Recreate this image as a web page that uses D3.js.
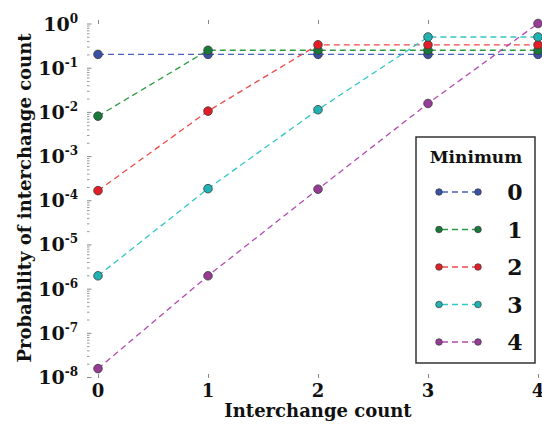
<!DOCTYPE html>
<html>
<head>
<meta charset="utf-8">
<script src="https://cdn.jsdelivr.net/npm/d3@7"></script>
<style>
  html, body { margin: 0; padding: 0; background: #fff; }
  svg { display: block; }
  text { font-family: "DejaVu Serif", "Liberation Serif", serif; font-weight: bold; fill: #111; }
</style>
</head>
<body>
<svg id="chart" width="542" height="424"></svg>
<script>
// ---- Data ----
const xValues = [0, 1, 2, 3, 4];
const seriesNames = ["0", "1", "2", "3", "4"];
const series0 = [0.2, 0.2, 0.2, 0.2, 0.2];
const series1 = [0.008, 0.248, 0.248, 0.248, 0.248];
const series2 = [1.65e-4, 0.0104, 0.33, 0.33, 0.33];
const series3 = [1.95e-6, 1.83e-4, 0.0112, 0.495, 0.495];
const series4 = [1.55e-8, 1.95e-6, 1.78e-4, 0.0155, 1.0];
const allSeries = [series0, series1, series2, series3, series4];
const yTickExponents = [0, -1, -2, -3, -4, -5, -6, -7, -8];
const xTickLabels = ["0", "1", "2", "3", "4"];
const fillColors = ["#3a52a6", "#18793a", "#e41e26", "#21b3b3", "#963c96"];
const lineColors = ["#4a62c0", "#2a9a44", "#f04848", "#33c6c6", "#b24ab2"];

const svg = d3.select("#chart");
const x = d3.scaleLinear().domain([0, 4]).range([98, 538]);
const y = d3.scaleLog().domain([1e-8, 1]).range([377, 23.5]);

const frameLeft = 87, frameTop = 20, frameBottom = 378;

// Y ticks (inward from hidden left spine)
const yAxis = d3.axisRight(y)
  .tickValues(yTickExponents.map(e => Math.pow(10, e)))
  .tickSize(4.5).tickFormat("");
const gy = svg.append("g").attr("transform", `translate(${frameLeft},0)`).call(yAxis);
gy.select(".domain").remove();
gy.selectAll(".tick line").attr("stroke", "#888").attr("stroke-width", 1);

// Minor ticks
const minorVals = [];
for (let e = -8; e < 0; e++) for (let m = 2; m <= 9; m++) minorVals.push(m * Math.pow(10, e));
const yMinor = d3.axisRight(y).tickValues(minorVals).tickSize(2.5).tickFormat("");
const gym = svg.append("g").attr("transform", `translate(${frameLeft},0)`).call(yMinor);
gym.select(".domain").remove();
gym.selectAll(".tick line").attr("stroke", "#999").attr("stroke-width", 1);

// Y tick labels with superscripts
const ylab = svg.append("g");
yTickExponents.forEach(e => {
  const t = ylab.append("text")
    .attr("x", 78).attr("y", y(Math.pow(10, e)) + 7)
    .attr("text-anchor", "end")
    .style("font-size", "19px");
  t.append("tspan").text("10");
  t.append("tspan").attr("dy", -8).style("font-size", "12px").text(String(e));
});

// X ticks top and bottom (inward)
const xTop = d3.axisBottom(x).tickValues(xValues).tickSize(4).tickFormat("");
const gxt = svg.append("g").attr("transform", `translate(0,${frameTop})`).call(xTop);
gxt.select(".domain").remove();
gxt.selectAll(".tick line").attr("stroke", "#888");
const xBot = d3.axisTop(x).tickValues(xValues).tickSize(4).tickFormat("");
const gxb = svg.append("g").attr("transform", `translate(0,${frameBottom})`).call(xBot);
gxb.select(".domain").remove();
gxb.selectAll(".tick line").attr("stroke", "#888");

// X tick labels
svg.append("g").selectAll("text").data(xValues).join("text")
  .attr("x", d => x(d)).attr("y", 397)
  .attr("text-anchor", "middle").style("font-size", "18px")
  .text((d, i) => xTickLabels[i]);

// Axis titles
svg.append("text").attr("x", 318).attr("y", 417).attr("text-anchor", "middle")
  .style("font-size", "18px").text("Interchange count");
svg.append("text").attr("transform", "translate(31,198) rotate(-90)")
  .attr("text-anchor", "middle").style("font-size", "18px")
  .text("Probability of interchange count");

// Series
const line = d3.line().x((d, i) => x(xValues[i])).y(d => y(d));
allSeries.forEach((s, k) => {
  const g = svg.append("g");
  g.append("path").attr("d", line(s)).attr("fill", "none")
    .attr("stroke", lineColors[k]).attr("stroke-width", 1.3)
    .attr("stroke-dasharray", "6,4");
  g.selectAll("circle").data(s).join("circle")
    .attr("cx", (d, i) => x(xValues[i])).attr("cy", d => y(d)).attr("r", 4.3)
    .attr("fill", fillColors[k]).attr("stroke", "#3a3a3a").attr("stroke-width", 0.8);
});

// Legend
const lg = svg.append("g");
lg.append("rect").attr("x", 416).attr("y", 137).attr("width", 119).attr("height", 226)
  .attr("fill", "#fff").attr("stroke", "#333").attr("stroke-width", 1.5);
lg.append("text").attr("x", 476).attr("y", 163).attr("text-anchor", "middle")
  .style("font-size", "17px").text("Minimum");
const legRowY = d3.scalePoint().domain(seriesNames).range([192, 342]);
seriesNames.forEach((n, k) => {
  const yy = legRowY(n);
  lg.append("line").attr("x1", 439).attr("x2", 478).attr("y1", yy).attr("y2", yy)
    .attr("stroke", lineColors[k]).attr("stroke-width", 1.3).attr("stroke-dasharray", "6,4")
    .attr("stroke-dashoffset", -3);
  [439, 478].forEach(cx => lg.append("circle").attr("cx", cx).attr("cy", yy).attr("r", 3.3)
    .attr("fill", fillColors[k]).attr("stroke", "#3a3a3a").attr("stroke-width", 0.7));
  lg.append("text").attr("x", 515).attr("y", yy + 8).attr("text-anchor", "middle")
    .style("font-size", "22px").text(n);
});
</script>
</body>
</html>
